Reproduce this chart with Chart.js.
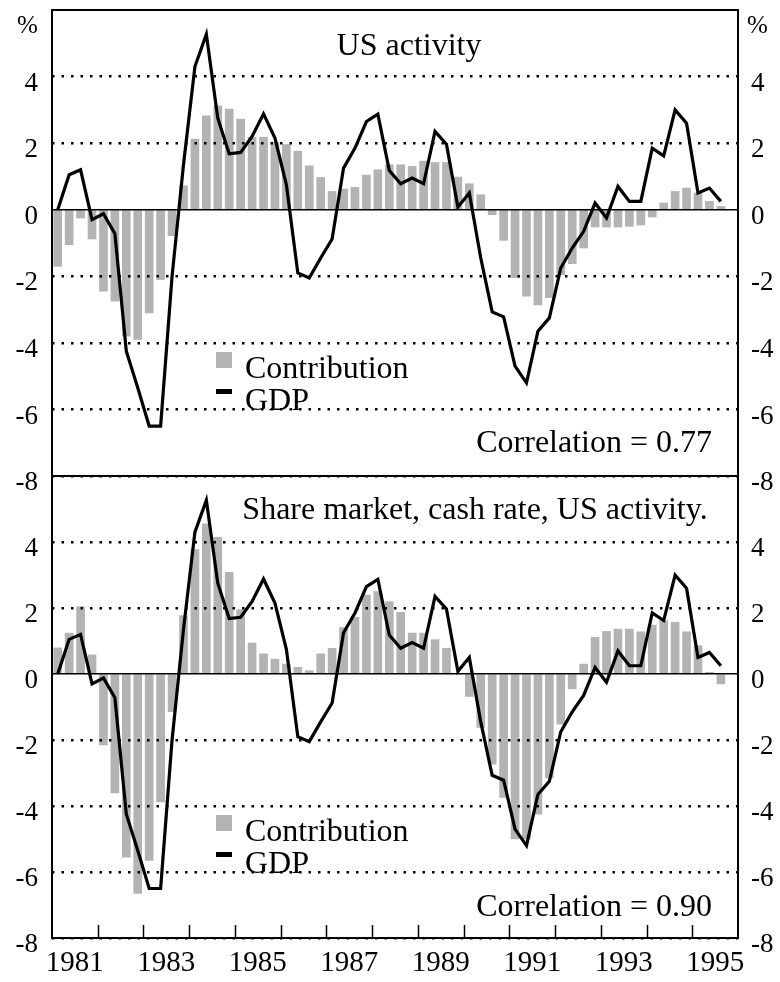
<!DOCTYPE html>
<html>
<head>
<meta charset="utf-8">
<script src="https://cdn.jsdelivr.net/npm/chart.js@4.4.1/dist/chart.umd.min.js"></script>
<style>
  html, body { margin: 0; padding: 0; background: #fff; }
  #wrap { position: relative; width: 780px; height: 982px; overflow: hidden;
          font-family: "Liberation Serif", "Times New Roman", serif; color: #000; }
  #wrap canvas { position: absolute; left: 0; }
  .t { position: absolute; white-space: nowrap; line-height: 1; font-size: 32px; }
  .sw { position: absolute; }
</style>
</head>
<body>
<div id="wrap">
  <canvas id="topChart" width="780" height="500" style="top:0"></canvas>
  <canvas id="botChart" width="780" height="522" style="top:460px"></canvas>

  <div class="t" style="left:17px;top:12px;font-size:25px">%</div>
  <div class="t" style="left:747px;top:12px;font-size:25px">%</div>

  <div class="t" style="left:409px;top:28px;transform:translateX(-50%)">US activity</div>
  <div class="sw" style="left:216px;top:352px;width:16px;height:16px;background:#b3b3b3"></div>
  <div class="sw" style="left:216px;top:389px;width:16px;height:5px;background:#000"></div>
  <div class="t" style="left:245px;top:351px">Contribution</div>
  <div class="t" style="left:245px;top:383px">GDP</div>
  <div class="t" style="right:68px;top:425px">Correlation = 0.77</div>

  <div class="t" style="left:475px;top:492px;transform:translateX(-50%)">Share market, cash rate, US activity.</div>
  <div class="sw" style="left:216px;top:815px;width:16px;height:16px;background:#b3b3b3"></div>
  <div class="sw" style="left:216px;top:852px;width:16px;height:5px;background:#000"></div>
  <div class="t" style="left:245px;top:814px">Contribution</div>
  <div class="t" style="left:245px;top:846px">GDP</div>
  <div class="t" style="right:68px;top:889px">Correlation = 0.90</div>
</div>

<script>
// quarterly, 1981 Q1 .. 1995 Q3
var startYear = 1981;
var gdp = [0, 1.05, 1.2, -0.3, -0.12, -0.72, -4.25, -5.35, -6.5, -6.5,
           -2.0, 1.35, 4.3, 5.27, 2.75, 1.68, 1.72, 2.2, 2.88, 2.15,
           0.75, -1.9, -2.05, -1.45, -0.88, 1.25, 1.85, 2.65, 2.87, 1.18,
           0.78, 0.95, 0.78, 2.35, 1.97, 0.08, 0.5, -1.45, -3.07, -3.22,
           -4.7, -5.2, -3.65, -3.25, -1.75, -1.15, -0.65, 0.2, -0.25, 0.7,
           0.25, 0.25, 1.85, 1.62, 3.0, 2.6, 0.5, 0.65, 0.25];
// contribution from US activity
var usContrib = [-1.7, -1.05, -0.25, -0.88, -2.45, -2.75, -3.8, -3.9, -3.1, -2.1,
                 -0.78, 0.72, 2.12, 2.82, 3.12, 3.02, 2.72, 2.18, 2.18, 2.02,
                 1.96, 1.76, 1.32, 0.97, 0.55, 0.62, 0.67, 1.04, 1.2, 1.35,
                 1.35, 1.3, 1.46, 1.42, 1.42, 0.98, 0.78, 0.45, -0.15, -0.92,
                 -2.04, -2.6, -2.86, -2.64, -1.96, -1.62, -1.15, -0.52, -0.52, -0.52,
                 -0.5, -0.46, -0.22, 0.2, 0.55, 0.65, 0.5, 0.25, 0.1];
// contribution from share market, cash rate and US activity
var mixContrib = [0.79, 1.24, 2.04, 0.58, -2.15, -3.6, -5.55, -6.65, -5.65, -3.88,
                  -1.14, 1.77, 3.77, 4.55, 4.14, 3.08, 1.95, 0.94, 0.61, 0.45,
                  0.3, 0.2, 0.1, 0.61, 0.78, 1.41, 1.72, 2.39, 2.5, 2.19,
                  1.87, 1.24, 1.24, 1.04, 0.78, 0.02, -0.68, -1.62, -2.73, -3.74,
                  -5.0, -5.0, -4.25, -3.15, -1.52, -0.45, 0.3, 1.11, 1.29, 1.36,
                  1.36, 1.28, 1.48, 1.62, 1.57, 1.28, 0.86, 0.05, -0.3];
var yTicks = [-8, -6, -4, -2, 0, 2, 4];
var yearLabels = [1981, 1983, 1985, 1987, 1989, 1991, 1993, 1995];
var yearTicks = [1982, 1983, 1984, 1985, 1986, 1987, 1988, 1989, 1990, 1991, 1992, 1993, 1994, 1995];

var FONT = '"Liberation Serif", "Times New Roman", serif';

function pts(arr){
  return arr.map(function(v, i){ return { x: startYear + (i + 0.5) / 4, y: v }; });
}

var frame = {
  id: 'frame',
  afterDraw: function(chart, args, opts){
    var a = chart.chartArea, c = chart.ctx;
    c.save();
    c.strokeStyle = '#000';
    c.lineWidth = 2;
    c.strokeRect(a.left, a.top, a.right - a.left, a.bottom - a.top);
    if (opts.yearTicks) {
      var sx = chart.scales.x;
      c.lineWidth = 1.5;
      opts.yearTicks.forEach(function(yr){
        var px = Math.round(sx.getPixelForValue(yr)) + 0.5;
        c.beginPath(); c.moveTo(px, a.bottom); c.lineTo(px, a.bottom - 13); c.stroke();
      });
    }
    c.restore();
  }
};

function yAxis(pos){
  var left = pos === 'left';
  return {
    type: 'linear', position: pos, min: -8, max: 6,
    afterBuildTicks: function(s){ s.ticks = yTicks.map(function(v){ return { value: v }; }); },
    afterFit: function(s){ s.width = left ? 52 : 42; s.paddingTop = 0; s.paddingBottom = 0; },
    grid: left ? {
      display: true, drawTicks: false, z: 1, color: '#000',
      lineWidth: function(ctx){ return ctx.tick && ctx.tick.value === 0 ? 1.5 : 2.5; }
    } : { display: false, drawTicks: false },
    border: {
      display: false,
      dash: function(ctx){ return ctx.tick && ctx.tick.value === 0 ? [] : [2.5, 7]; }
    },
    ticks: {
      color: '#000', font: { family: FONT, size: 27 },
      padding: left ? 14 : 13, labelOffset: 7, autoSkip: false,
      callback: function(v){ return String(v); }
    }
  };
}

function makeChart(id, bars, bottom){
  var xAxis = {
    type: 'linear', min: 1981, max: 1996, offset: false,
    grid: { display: false, drawTicks: false, offset: false },
    border: { display: false }
  };
  if (bottom) {
    xAxis.display = true;
    xAxis.afterBuildTicks = function(s){ s.ticks = yearLabels.map(function(y){ return { value: y + 0.5 }; }); };
    xAxis.afterFit = function(s){ s.height = 44; s.paddingLeft = 0; s.paddingRight = 0; };
    xAxis.ticks = { color: '#000', font: { family: FONT, size: 29 }, padding: 8,
                    maxRotation: 0, autoSkip: false,
                    callback: function(v){ return String(Math.floor(v)); } };
  } else {
    xAxis.display = false;
  }
  return new Chart(document.getElementById(id).getContext('2d'), {
    type: 'bar',
    data: {
      datasets: [
        { type: 'line', label: 'GDP', data: pts(gdp), borderColor: '#000', borderWidth: 3.2,
          pointRadius: 0, tension: 0, fill: false, borderJoinStyle: 'miter', order: 1 },
        { type: 'bar', label: 'Contribution', data: pts(bars), backgroundColor: '#b3b3b3',
          borderWidth: 0, barThickness: 8, order: 2 }
      ]
    },
    options: {
      responsive: false, animation: false, devicePixelRatio: 1,
      layout: { padding: bottom ? { top: 16, bottom: 0, left: 0, right: 0 } : { top: 10, bottom: 24, left: 0, right: 0 } },
      plugins: { legend: { display: false }, tooltip: { enabled: false },
                 frame: { yearTicks: bottom ? yearTicks : null } },
      scales: { x: xAxis, y: yAxis('left'), y2: yAxis('right') }
    },
    plugins: [frame]
  });
}

makeChart('topChart', usContrib, false);
makeChart('botChart', mixContrib, true);
</script>
</body>
</html>
